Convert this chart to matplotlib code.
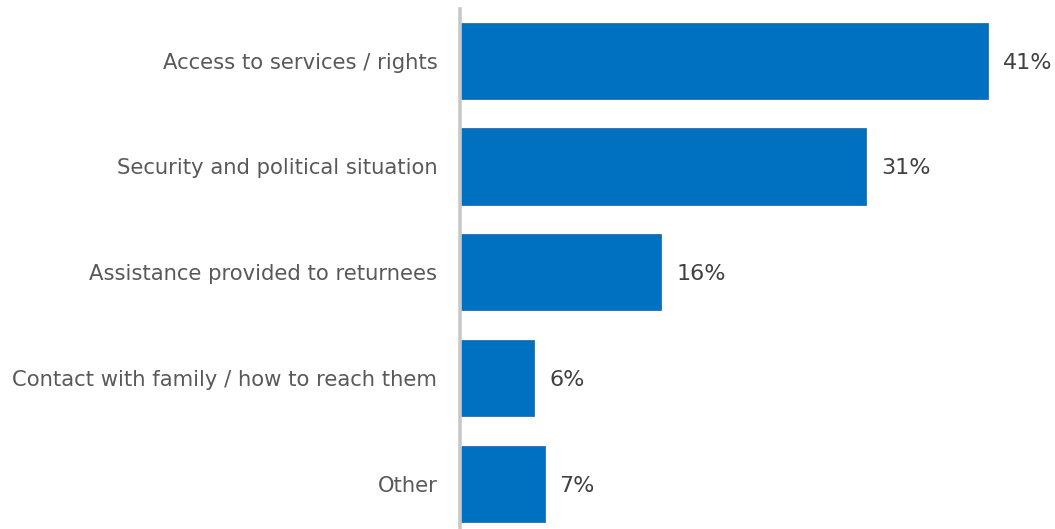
import matplotlib
matplotlib.use("Agg")
import matplotlib.pyplot as plt

categories = ["Access to services / rights", "Security and political situation",
              "Assistance provided to returnees", "Contact with family / how to reach them", "Other"]
values = [41.0, 31.5, 15.6, 5.7, 6.5]
value_labels = ["41%", "31%", "16%", "6%", "7%"]

W, H = 1055, 529
fig = plt.figure(figsize=(W / 100, H / 100), dpi=100)
ax = fig.add_axes([459 / W, 0, (W - 459) / W, (H - 9) / H])

pos = list(range(len(categories)))
ax.barh(pos, values, height=0.72, color="#0070C0", edgecolor="#2a6fb0", linewidth=0.6, zorder=2)
ax.set_ylim(len(categories) - 1 + 0.43, -0.49)
ax.set_xlim(-2 / 12.85, (W - 461) / 12.85)

ax.set_yticks(pos)
ax.set_yticklabels(categories)
ax.tick_params(axis="y", length=0, pad=16, labelsize=15.2, labelcolor="#595959")
ax.set_xticks([])
for s in ["top", "right", "bottom"]:
    ax.spines[s].set_visible(False)
ax.spines["left"].set_color("#c8c8c8")
ax.spines["left"].set_linewidth(2.6)
ax.spines["left"].set_position(("data", -1.5 / 12.85))

for p, v, lab in zip(pos, values, value_labels):
    ax.annotate(lab, (v, p), xytext=(15, -2), textcoords="offset pixels",
                va="center", ha="left", fontsize=16, color="#404040")

fig.savefig("out.png", dpi=100)
